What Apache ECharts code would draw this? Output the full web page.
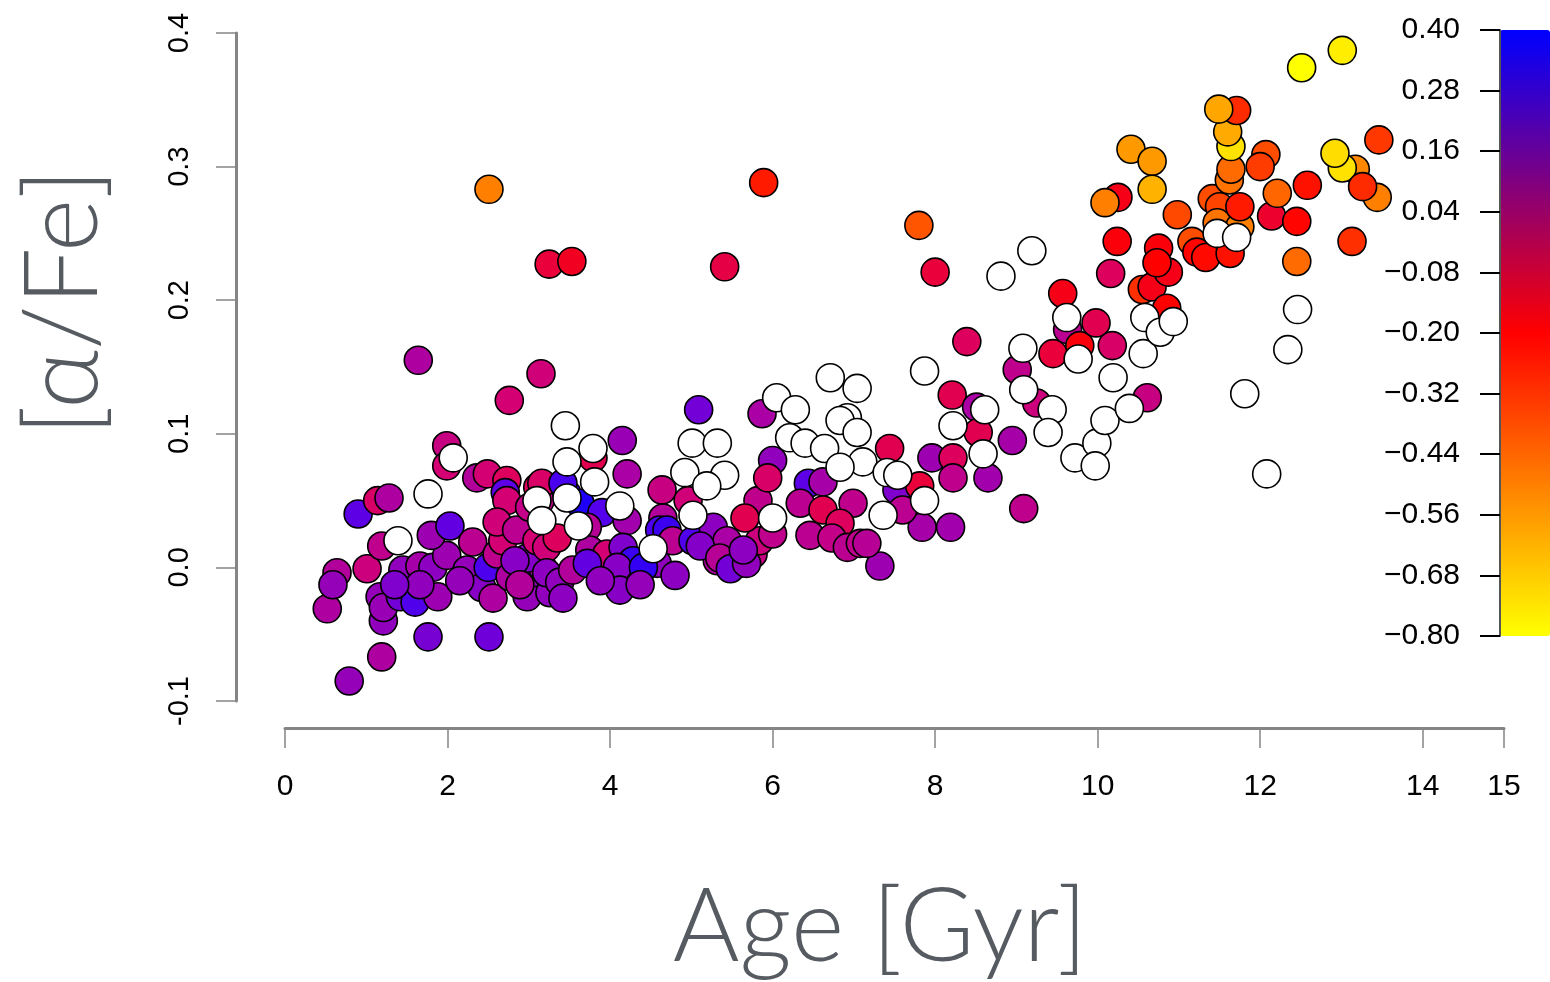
<!DOCTYPE html>
<html><head><meta charset="utf-8">
<script src="https://cdn.jsdelivr.net/npm/echarts@6/dist/echarts.min.js"></script>
<style>html,body{margin:0;padding:0;background:#fff}#c{width:1550px;height:982px}</style>
</head><body><div id="c"></div>
<script>
// Stars with measured [Fe/H] (colour-coded)
const age = [
 2.51,3.25,3.53,5.89,5.41,7.80,8.00,1.64,3.15,2.76,8.39,10.61,5.09,5.87,4.15,
 0.52,0.64,0.59,0.79,0.90,1.01,1.19,1.14,1.28,1.19,1.17,1.21,1.21,1.42,1.60,1.45,1.66,1.82,1.99,1.88,1.76,1.80,2.03,1.99,1.99,
 2.36,2.49,2.73,2.71,2.73,2.31,2.24,2.42,2.50,2.61,2.68,2.61,2.85,2.56,2.77,2.98,3.05,3.17,2.98,3.10,3.01,3.22,3.26,2.51,3.11,3.14,
 3.47,3.63,3.90,4.21,4.65,4.61,4.21,4.64,3.79,3.16,3.42,3.72,3.35,3.75,3.96,4.16,4.28,4.70,4.58,4.77,5.02,5.27,5.44,5.32,5.60,5.76,
 3.22,3.38,3.54,3.72,4.09,4.41,4.12,3.88,4.37,4.80,5.11,2.83,1.66,1.35,2.15,2.89,3.42,4.96,5.84,
 5.82,6.00,5.94,5.66,6.00,6.44,6.62,7.44,7.53,7.81,7.84,8.19,6.99,6.34,7.60,6.62,6.83,6.46,6.73,6.92,7.08,7.32,7.16,5.35,5.48,5.68,5.64,
 7.96,8.22,8.22,8.65,8.21,8.51,8.53,8.95,9.09,9.01,9.25,
 9.45,9.57,9.63,9.78,9.98,10.18,10.16,10.24,10.25,10.09,10.55,10.67,10.85,10.75,10.87,10.73,10.98,11.16,11.22,11.33,11.63,
 11.41,11.50,11.47,11.75,11.75,11.62,11.64,11.64,11.60,11.71,11.49,10.41,10.67,10.67,12.07,12.00,12.14,12.21,12.45,12.58,12.45,
 12.51,13.01,13.17,13.01,12.92,13.44,13.26,13.46,13.13
];
const alphaFe = [
 0.283,0.227,0.229,0.288,0.225,0.256,0.221,0.155,0.145,0.125,0.169,0.127,0.118,0.115,0.095,
 -0.031,-0.004,-0.013,-0.085,0.040,-0.001,-0.067,0.050,0.052,0.016,-0.022,-0.040,-0.030,-0.022,-0.026,-0.002,0.001,0.000,0.009,-0.022,-0.052,0.024,0.031,0.091,0.076,
 0.067,0.070,0.065,0.056,0.050,0.019,-0.002,-0.015,0.000,0.010,0.020,0.034,0.028,-0.023,-0.007,-0.022,-0.004,0.000,0.007,0.020,0.045,0.015,-0.019,-0.052,0.060,0.050,
 0.055,0.048,0.041,0.035,0.037,0.028,0.070,0.058,0.082,0.063,0.063,0.030,0.022,0.013,0.010,0.015,0.005,0.028,0.003,0.020,0.020,0.030,0.020,0.005,0.003,0.010,
 -0.004,-0.011,-0.002,0.003,0.000,0.000,-0.017,-0.010,-0.013,-0.006,0.016,0.005,-0.013,-0.013,-0.010,-0.013,-0.023,0.050,0.020,
 0.050,0.080,0.067,0.037,0.025,0.063,0.064,0.089,0.058,0.061,0.030,0.030,0.048,0.048,0.043,0.043,0.033,0.024,0.022,0.015,0.018,0.001,0.018,0.007,-0.001,0.003,0.013,
 0.082,0.082,0.067,0.067,0.129,0.120,0.101,0.095,0.044,0.148,0.123,
 0.160,0.205,0.178,0.166,0.183,0.166,0.220,0.244,0.277,0.273,0.208,0.210,0.194,0.239,0.221,0.228,0.264,0.244,0.236,0.232,0.235,
 0.276,0.270,0.258,0.255,0.270,0.290,0.298,0.315,0.326,0.342,0.343,0.313,0.304,0.283,0.309,0.300,0.263,0.280,0.259,0.286,0.229,
 0.374,0.387,0.298,0.299,0.310,0.277,0.285,0.320,0.244
];
const feH = [
 -0.50,-0.15,-0.17,-0.26,-0.14,-0.40,-0.15,-0.01,-0.09,-0.10,-0.12,-0.07,0.13,0.00,0.04,
 -0.01,-0.02,0.05,0.05,0.18,-0.08,-0.01,-0.11,-0.01,-0.05,0.05,0.06,0.04,0.13,0.21,0.06,0.01,0.07,0.03,0.03,0.12,0.03,0.17,-0.07,-0.10,
 -0.02,-0.10,-0.12,0.18,-0.10,-0.04,0.05,0.08,0.22,-0.05,-0.10,-0.09,-0.04,-0.01,-0.01,0.05,0.06,0.01,0.09,-0.10,-0.06,-0.09,0.06,0.14,-0.12,-0.05,
 0.22,0.33,0.20,0.02,-0.02,0.22,0.00,-0.07,-0.13,-0.11,0.23,-0.03,-0.12,-0.01,-0.10,0.10,0.26,0.26,0.06,-0.04,0.21,0.07,0.00,-0.01,0.06,-0.07,
 0.07,0.06,-0.02,0.17,0.08,0.28,0.08,0.06,0.05,0.07,0.09,0.08,0.06,0.10,0.05,-0.02,0.07,-0.09,-0.08,
 -0.05,0.06,-0.11,-0.13,-0.05,0.18,0.01,-0.13,0.10,-0.15,0.01,0.02,-0.05,-0.04,-0.04,-0.13,-0.12,-0.04,-0.06,-0.04,-0.05,0.03,-0.03,-0.03,0.13,0.06,0.07,
 0.03,-0.12,-0.05,0.02,-0.13,0.00,-0.13,0.01,-0.05,-0.05,-0.08,
 -0.15,-0.18,-0.04,-0.19,-0.13,-0.11,-0.12,-0.19,-0.18,-0.50,-0.31,-0.18,-0.20,-0.19,-0.18,-0.20,-0.37,-0.38,-0.21,-0.22,-0.24,
 -0.38,-0.36,-0.47,-0.50,-0.26,-0.47,-0.45,-0.73,-0.60,-0.30,-0.59,-0.56,-0.56,-0.62,-0.38,-0.34,-0.16,-0.44,-0.21,-0.24,-0.45,
 -0.80,-0.76,-0.52,-0.73,-0.72,-0.50,-0.30,-0.33,-0.31
];
// Stars without [Fe/H] (drawn white)
const ageNA = [
 1.39,1.76,2.07,3.10,3.16,3.45,3.47,3.47,3.61,3.79,3.81,4.12,4.53,5.01,5.32,4.92,5.41,5.19,5.02,6.00,
 6.05,6.28,6.21,6.40,6.64,6.71,7.04,6.92,6.83,7.04,7.11,6.83,7.41,7.54,7.36,7.87,7.87,8.22,8.61,8.59,
 8.81,9.19,9.08,9.09,9.44,9.39,9.62,9.76,9.72,9.99,9.97,10.09,10.19,10.39,10.58,10.56,10.77,10.93,11.47,11.71,
 12.46,12.34,11.81,12.08
];
const alphaNA = [
 0.020,0.055,0.082,0.050,0.035,0.106,0.079,0.052,0.031,0.089,0.064,0.046,0.014,0.093,0.093,0.071,0.069,0.061,0.039,0.037,
 0.127,0.118,0.097,0.093,0.089,0.142,0.134,0.112,0.110,0.101,0.079,0.075,0.071,0.069,0.039,0.050,0.147,0.106,0.118,0.085,
 0.218,0.237,0.164,0.133,0.118,0.101,0.187,0.156,0.082,0.093,0.076,0.110,0.142,0.119,0.187,0.160,0.176,0.184,0.250,0.247,
 0.193,0.163,0.130,0.070
];
const xTicks = [0, 2, 4, 6, 8, 10, 12, 14, 15];
const yTicks = [-0.1, 0.0, 0.1, 0.2, 0.3, 0.4];
const cbTicks = [-0.80, -0.68, -0.56, -0.44, -0.32, -0.20, -0.08, 0.04, 0.16, 0.28, 0.40];
// colour bar (linear blue-red-yellow) and the brighter marker palette, evenly spaced from -0.8 to 0.4
const cbColors = ['#ffff00', '#ff0000', '#0000ff'];
const markerColors = ['#ffff00','#ffd500','#ffaa00','#ff8000','#ff5500','#ff2b00','#ff0000',
                      '#d40073','#aa00a5','#8000cd','#5500eb','#2b00f5','#0000ff'];

const colored = age.map((a, i) => [a, alphaFe[i], feH[i]]);
const blank = ageNA.map((a, i) => [a, alphaNA[i]]);

const chart = echarts.init(document.getElementById('c'), null, {renderer: 'canvas'});
const tickFont = 'Liberation Sans, Arial, sans-serif';
const titleFont = '300 102px Lato, "Open Sans", sans-serif';
chart.setOption({
  animation: false,
  backgroundColor: '#fff',
  grid: [
    {left: 285, width: 1219, top: 33, height: 668},
    {left: 1500, width: 50, top: 30, height: 606}
  ],
  xAxis: [
    {gridIndex: 0, type: 'value', min: 0, max: 15, offset: 27,
     axisLine: {onZero: false, lineStyle: {color: '#858585', width: 3}},
     axisTick: {length: 20, lineStyle: {color: '#858585', width: 1.5}, customValues: xTicks},
     axisLabel: {customValues: xTicks, fontSize: 30, color: '#000', fontFamily: tickFont, margin: 44},
     splitLine: {show: false}},
    {gridIndex: 1, type: 'value', min: 0, max: 1, show: false}
  ],
  yAxis: [
    {gridIndex: 0, type: 'value', min: -0.1, max: 0.4, offset: 49,
     axisLine: {onZero: false, lineStyle: {color: '#858585', width: 3}},
     axisTick: {length: 20, lineStyle: {color: '#858585', width: 1.5}, customValues: yTicks},
     axisLabel: {customValues: yTicks, rotate: 90, fontSize: 29, color: '#000', fontFamily: tickFont, margin: 42,
       formatter: v => (v < 0 ? '-' : '') + Math.abs(v).toFixed(1)},
     splitLine: {show: false}},
    {gridIndex: 1, type: 'value', min: -0.8, max: 0.4, z: 10,
     axisLine: {show: true, onZero: false, lineStyle: {color: '#555', width: 2}},
     axisTick: {show: true, length: 20, lineStyle: {color: '#000', width: 2}, customValues: cbTicks},
     axisLabel: {customValues: cbTicks, fontSize: 30, color: '#000', fontFamily: tickFont, margin: 40,
       formatter: v => (v < -1e-9 ? '\u2212' : '') + Math.abs(v).toFixed(2)},
     splitLine: {show: false}}
  ],
  visualMap: [
    {type: 'continuous', show: false, min: -0.8, max: 0.4, dimension: 2, seriesIndex: 0,
     inRange: {color: markerColors}},
    {type: 'continuous', min: -0.8, max: 0.4, dimension: 0, seriesIndex: 2,
     inRange: {color: cbColors},
     orient: 'vertical', left: 1500, top: 30, itemWidth: 50, itemHeight: 606,
     padding: 0, calculable: false, text: null, showLabel: false, hoverLink: false}
  ],
  graphic: [
    {type: 'text', x: 64, y: 302, rotation: Math.PI / 2,
     style: {text: '[\u03b1/Fe]', font: titleFont, fill: '#565b61', textAlign: 'center', textVerticalAlign: 'middle'}},
    {type: 'text', x: 880, y: 928,
     style: {text: 'Age [Gyr]', font: titleFont, fill: '#565b61', textAlign: 'center', textVerticalAlign: 'middle'}}
  ],
  series: [
    {type: 'scatter', xAxisIndex: 0, yAxisIndex: 0, data: colored, symbol: 'circle', symbolSize: 28,
     itemStyle: {borderColor: '#000', borderWidth: 1.6, opacity: 1}, emphasis: {disabled: true}},
    {type: 'scatter', xAxisIndex: 0, yAxisIndex: 0, data: blank, symbol: 'circle', symbolSize: 28,
     itemStyle: {color: '#fff', borderColor: '#000', borderWidth: 1.6, opacity: 1}, emphasis: {disabled: true}},
    {type: 'scatter', xAxisIndex: 1, yAxisIndex: 1, data: [], silent: true}
  ]
});
</script></body></html>
